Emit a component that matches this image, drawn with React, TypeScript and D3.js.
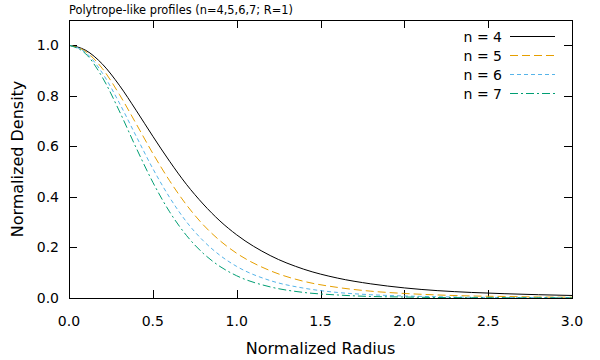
import React, { useEffect, useRef } from "react";
import * as d3 from "d3";

// radius samples (normalized)
const radius = [0, 0.1, 0.2, 0.3, 0.4, 0.5, 0.6, 0.7, 0.8, 0.9, 1.0, 1.2, 1.4, 1.6, 1.8, 2.0, 2.2, 2.4, 2.6, 2.8, 3.0];

// density
const n4 = [1, 0.98, 0.925, 0.842, 0.743, 0.64, 0.541, 0.45, 0.372, 0.305, 0.25, 0.168, 0.114, 0.079, 0.056, 0.04, 0.029, 0.022, 0.017, 0.013, 0.01];
const n5 = [1, 0.975, 0.907, 0.806, 0.69, 0.572, 0.464, 0.369, 0.29, 0.227, 0.177, 0.108, 0.066, 0.042, 0.027, 0.018, 0.012, 0.008, 0.006, 0.004, 0.003];
const n6 = [1, 0.971, 0.889, 0.772, 0.641, 0.512, 0.398, 0.302, 0.227, 0.169, 0.125, 0.069, 0.039, 0.022, 0.013, 0.008, 0.005, 0.003, 0.002, 0.0014, 0.001];
const n7 = [1, 0.966, 0.872, 0.74, 0.595, 0.458, 0.341, 0.248, 0.177, 0.125, 0.088, 0.044, 0.022, 0.012, 0.006, 0.004, 0.002, 0.0012, 0.0008, 0.0005, 0.0003];

const seriesNames = ["n = 4", "n = 5", "n = 6", "n = 7"];
const xTicks = [0, 0.5, 1, 1.5, 2, 2.5, 3];
const yTicks = [0, 0.2, 0.4, 0.6, 0.8, 1.0];

const colors = ["#000000", "#E69F00", "#56B4E9", "#009E73"];
const dashes = ["none", "8,4", "4,3", "8,3,2,3"];

const App = () => {
  const ref = useRef<SVGSVGElement>(null);

  useEffect(() => {
    const svg = d3.select(ref.current);
    svg.selectAll("*").remove();

    const left = 69, right = 572, top = 20, bottom = 298;
    const font = "DejaVu Sans, sans-serif";

    const x = d3.scaleLinear().domain([0, 3]).range([left, right]);
    const y = d3.scaleLinear().domain([0, 1.1]).range([bottom, top]);

    svg.append("rect").attr("width", 600).attr("height", 360).attr("fill", "#fff");

    // title
    svg.append("text")
      .attr("x", left).attr("y", 14)
      .attr("font-family", font).attr("font-size", 11.4)
      .text("Polytrope-like profiles (n=4,5,6,7; R=1)");

    // ticks, mirrored on all sides, pointing inward
    const g = svg.append("g").attr("stroke", "#000").attr("stroke-width", 1);
    xTicks.forEach((t) => {
      const px = Math.round(x(t)) + 0.5;
      g.append("line").attr("x1", px).attr("x2", px).attr("y1", bottom).attr("y2", bottom - 8);
      g.append("line").attr("x1", px).attr("x2", px).attr("y1", top).attr("y2", top + 8);
    });
    yTicks.forEach((t) => {
      const py = Math.round(y(t)) + 0.5;
      g.append("line").attr("x1", left).attr("x2", left + 8).attr("y1", py).attr("y2", py);
      g.append("line").attr("x1", right).attr("x2", right - 8).attr("y1", py).attr("y2", py);
    });

    svg.selectAll(".xt").data(xTicks).join("text")
      .attr("x", (d) => x(d)).attr("y", 326)
      .attr("text-anchor", "middle")
      .attr("font-family", font).attr("font-size", 14)
      .text((d) => d3.format(".1f")(d));

    svg.selectAll(".yt").data(yTicks).join("text")
      .attr("x", 59).attr("y", (d) => y(d) + 5)
      .attr("text-anchor", "end")
      .attr("font-family", font).attr("font-size", 14)
      .text((d) => d3.format(".1f")(d));

    // axis labels
    svg.append("text")
      .attr("x", (left + right) / 2).attr("y", 354)
      .attr("text-anchor", "middle")
      .attr("font-family", font).attr("font-size", 16)
      .text("Normalized Radius");
    svg.append("text")
      .attr("transform", `translate(23,${(top + bottom) / 2}) rotate(-90)`)
      .attr("text-anchor", "middle")
      .attr("font-family", font).attr("font-size", 16)
      .text("Normalized Density");

    // curves
    const allSeries = [n4, n5, n6, n7];
    const line = d3.line<number>()
      .x((_, i) => x(radius[i]))
      .y((d) => y(d))
      .curve(d3.curveMonotoneX);

    allSeries.forEach((s, i) => {
      svg.append("path")
        .datum(s)
        .attr("d", line)
        .attr("fill", "none")
        .attr("stroke", colors[i])
        .attr("stroke-width", 1)
        .attr("stroke-dasharray", dashes[i]);
    });

    // legend
    seriesNames.forEach((name, i) => {
      const ly = 36.5 + i * 19;
      svg.append("text")
        .attr("x", 502).attr("y", ly + 5)
        .attr("text-anchor", "end")
        .attr("font-family", font).attr("font-size", 14)
        .text(name);
      svg.append("line")
        .attr("x1", 510).attr("x2", 555)
        .attr("y1", ly).attr("y2", ly)
        .attr("stroke", colors[i])
        .attr("stroke-dasharray", dashes[i]);
    });

    // frame
    svg.append("rect")
      .attr("x", left + 0.5).attr("y", top + 0.5)
      .attr("width", right - left).attr("height", bottom - top)
      .attr("fill", "none").attr("stroke", "#000");
  }, []);

  return (
    <svg ref={ref} width={600} height={360} style={{ position: "absolute", left: 0, top: 0 }} />
  );
};

export default App;
